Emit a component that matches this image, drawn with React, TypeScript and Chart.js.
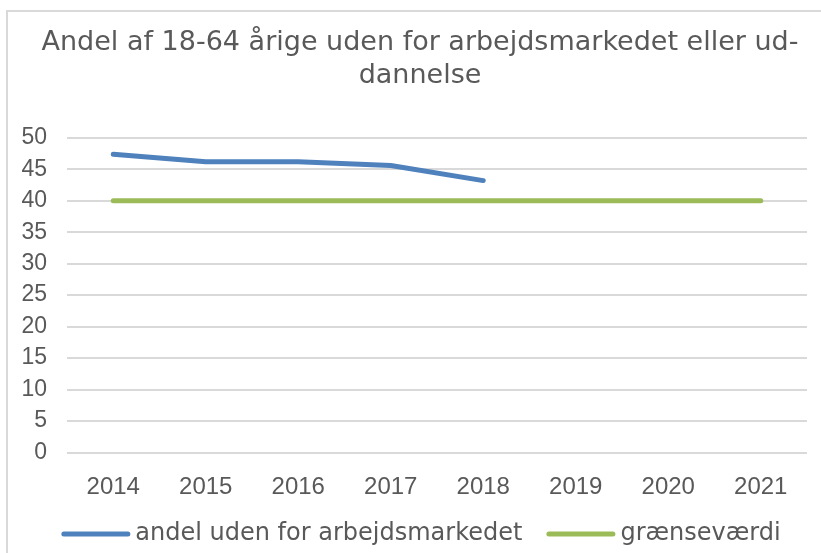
import React, { useEffect, useRef } from "react";
import { Chart, registerables } from "chart.js";

Chart.register(...registerables);

const years = ["2014", "2015", "2016", "2017", "2018", "2019", "2020", "2021"];
const andelValues = [47.4, 46.2, 46.2, 45.6, 43.2, null, null, null];
const graenseValues = [40, 40, 40, 40, 40, 40, 40, 40];
const titleLines = ["Andel af 18-64 årige uden for arbejdsmarkedet eller ud-", "dannelse"];
const seriesNames = ["andel uden for arbejdsmarkedet", "grænseværdi"];
const seriesColors = ["#4F81BD", "#9BBB59"];
const yMin = 0;
const yMax = 50;
const yStep = 5;

const textColor = "#595959";
const verdanaLike = "'DejaVu Sans', Verdana, sans-serif";
const tickFamily = "'Liberation Sans', Arial, sans-serif";

const unclipYLabels = {
  id: "unclipYLabels",
  afterLayout(chart: any) {
    const y = chart.scales.y;
    if (y) y.left = 0;
  },
};

// Draws the legend line swatches (Excel style: long line, close to the text)
const legendSwatches = {
  id: "legendSwatches",
  afterDraw(chart: any) {
    const legend = chart.legend;
    if (!legend || !legend.legendHitBoxes) return;
    const ctx = chart.ctx;
    legend.legendHitBoxes.forEach((hb: any, i: number) => {
      const ds = chart.data.datasets[i];
      if (!ds) return;
      const cy = hb.top + hb.height / 2;
      ctx.save();
      ctx.strokeStyle = ds.borderColor;
      ctx.lineWidth = 5;
      ctx.lineCap = "round";
      ctx.beginPath();
      ctx.moveTo(hb.left + 4.5, cy);
      ctx.lineTo(hb.left + 68.5, cy);
      ctx.stroke();
      ctx.restore();
    });
  },
};

export default function App() {
  const canvasRef = useRef<HTMLCanvasElement | null>(null);

  useEffect(() => {
    if (!canvasRef.current) return;
    const chart = new Chart(canvasRef.current, {
      type: "line",
      data: {
        labels: years,
        datasets: [
          {
            label: seriesNames[0],
            data: andelValues,
            borderColor: seriesColors[0],
            backgroundColor: seriesColors[0],
            borderWidth: 5,
            borderCapStyle: "round",
            borderJoinStyle: "round",
            pointRadius: 0,
            pointHoverRadius: 0,
            tension: 0,
            spanGaps: false,
          },
          {
            label: seriesNames[1],
            data: graenseValues,
            borderColor: seriesColors[1],
            backgroundColor: seriesColors[1],
            borderWidth: 5,
            borderCapStyle: "round",
            borderJoinStyle: "round",
            pointRadius: 0,
            pointHoverRadius: 0,
            tension: 0,
          },
        ],
      },
      plugins: [unclipYLabels, legendSwatches],
      options: {
        animation: false,
        responsive: false,
        maintainAspectRatio: false,
        layout: { padding: { left: 33, right: 14, top: 27, bottom: -3 } },
        plugins: {
          tooltip: { enabled: false },
          title: {
            display: true,
            text: titleLines,
            color: textColor,
            font: { family: verdanaLike, size: 27, weight: "normal", lineHeight: 1.2 },
            padding: { top: 0, bottom: 46 },
          },
          legend: {
            display: true,
            position: "bottom",
            labels: {
              color: textColor,
              font: { family: verdanaLike, size: 24 },
              usePointStyle: true,
              pointStyle: "line",
              pointStyleWidth: 64,
              padding: 22,
              generateLabels: (c: any) =>
                (Chart as any).defaults.plugins.legend.labels
                  .generateLabels(c)
                  .map((l: any) => ({
                    ...l,
                    strokeStyle: "rgba(0,0,0,0)",
                    fillStyle: "rgba(0,0,0,0)",
                  })),
            },
          },
        },
        scales: {
          x: {
            offset: true,
            grid: { display: false, drawTicks: false },
            border: { display: false },
            ticks: {
              color: textColor,
              font: { family: tickFamily, size: 24 },
              padding: 20.1,
              maxRotation: 0,
            },
            afterFit: (scale: any) => {
              scale.height = 47.5;
            },
          },
          y: {
            min: yMin,
            max: yMax,
            grid: { color: "#d9d9d9", lineWidth: 2, drawTicks: false },
            border: { display: false },
            ticks: {
              stepSize: yStep,
              color: textColor,
              font: { family: tickFamily, size: 23 },
              padding: 20,
            },
            afterFit: (scale: any) => {
              scale.width = 34;
            },
          },
        },
      },
    });
    return () => chart.destroy();
  }, []);

  return (
    <div
      style={{
        position: "fixed",
        left: 0,
        top: 0,
        width: 821,
        height: 553,
        overflow: "hidden",
        background: "#ffffff",
      }}
    >
      <div
        style={{
          position: "absolute",
          left: 6,
          top: 10,
          width: 815,
          height: 543,
          borderLeft: "2px solid #d9d9d9",
          borderTop: "2px solid #d9d9d9",
          boxSizing: "border-box",
        }}
      />
      <canvas
        ref={canvasRef}
        width={821}
        height={553}
        style={{ position: "absolute", left: 0, top: 0, width: 821, height: 553 }}
      />
    </div>
  );
}
